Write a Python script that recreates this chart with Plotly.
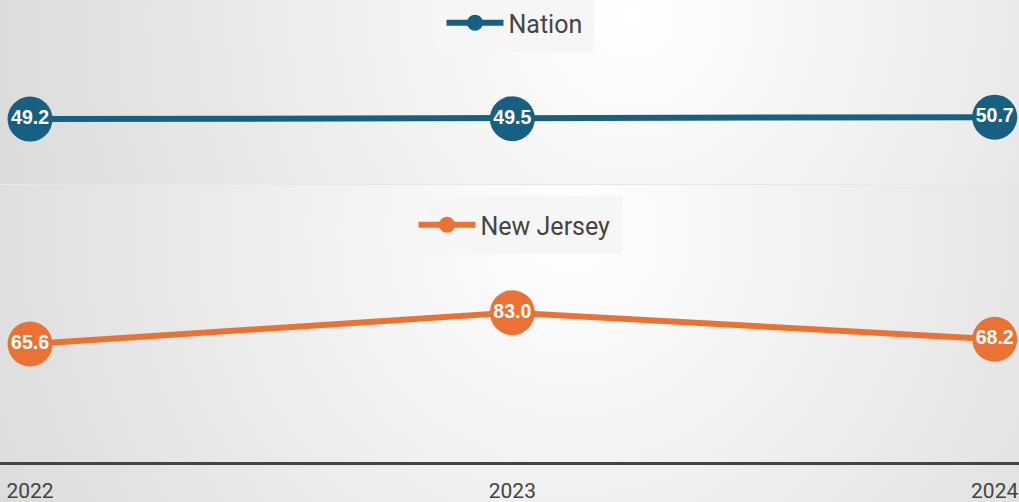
import base64
import plotly.graph_objects as go

years = [2022, 2023, 2024]
year_labels = ["2022", "2023", "2024"]
nation = [49.2, 49.5, 50.7]
new_jersey = [65.6, 83.0, 68.2]

BLUE = "#186083"
ORANGE = "#ec7233"

def grad_uri(w, h, cx, cy, r, c0, c1):
    svg = (f'<svg xmlns="http://www.w3.org/2000/svg" width="{w}" height="{h}" '
           f'viewBox="0 0 {w} {h}" preserveAspectRatio="none"><defs>'
           f'<radialGradient id="g" gradientUnits="userSpaceOnUse" cx="{cx*w}" cy="{cy*h}" r="{r*w}">'
           f'<stop offset="0" stop-color="{c0}"/><stop offset="1" stop-color="{c1}"/>'
           f'</radialGradient></defs><rect width="{w}" height="{h}" fill="url(#g)"/></svg>')
    return "data:image/svg+xml;base64," + base64.b64encode(svg.encode()).decode()

H = 462.0
top_dom = [1 - 184 / H, 1]
bot_dom = [0, 1 - 185 / H]

fig = go.Figure()
fig.add_trace(go.Scatter(
    x=years, y=nation, name="Nation", mode="lines+markers+text",
    line=dict(color=BLUE, width=6), marker=dict(color=BLUE, size=45),
    text=[f"{v:.1f}" for v in nation], textposition="middle center",
    textfont=dict(family="Liberation Sans", size=19.5, color="white", weight="bold"),
    xaxis="x", yaxis="y", legend="legend", cliponaxis=False, hoverinfo="skip"))
fig.add_trace(go.Scatter(
    x=years, y=new_jersey, name="New Jersey", mode="lines+markers+text",
    line=dict(color=ORANGE, width=6), marker=dict(color=ORANGE, size=45),
    text=[f"{v:.1f}" for v in new_jersey], textposition="middle center",
    textfont=dict(family="Liberation Sans", size=19.5, color="white", weight="bold"),
    xaxis="x2", yaxis="y2", legend="legend2", cliponaxis=False, hoverinfo="skip"))

px_per_unit = 963.7 / 2
xr = [2022 - 30 / px_per_unit, 2024 + (1019 - 994.7) / px_per_unit]

legend_common = dict(
    xanchor="center", x=0.5 + 5 / 1019, yanchor="top", bgcolor="#f6f6f6",
    bordercolor="#f6f6f6", borderwidth=6,
    font=dict(family="Roboto", size=25, color="#444444"), itemwidth=57,
    orientation="h")

fig.update_layout(
    width=1019, height=502,
    margin=dict(l=0, r=0, t=0, b=40, autoexpand=False),
    paper_bgcolor="#e8e8e8", plot_bgcolor="rgba(0,0,0,0)",
    xaxis=dict(domain=[0, 1], range=xr, anchor="y", showticklabels=False,
               showgrid=False, zeroline=False, showline=False),
    yaxis=dict(domain=top_dom, range=[0, 139.5], anchor="x", visible=False),
    xaxis2=dict(domain=[0, 1], range=xr, anchor="y2", tickvals=years,
                ticktext=year_labels, showgrid=False, zeroline=False,
                showline=True, linecolor="#444444", linewidth=3, automargin=False,
                ticks="outside", ticklen=8, tickcolor="rgba(0,0,0,0)",
                tickfont=dict(family="Roboto", size=21, color="#444444")),
    yaxis2=dict(domain=bot_dom, range=[0, 154], anchor="x2", visible=False),
    legend=dict(y=1 + 6 / H, **legend_common),
    legend2=dict(y=1 - 196 / H, **legend_common),
    showlegend=True,
    images=[
        dict(source=grad_uri(1019, 184, 0.62, 0.1, 0.62, "#ffffff", "#dcdcdc"),
             xref="paper", yref="paper", x=0, y=1, sizex=1, sizey=184 / H,
             xanchor="left", yanchor="top", sizing="stretch", layer="below"),
        dict(source=grad_uri(1019, 317, 0.56, 0.15, 0.62, "#ffffff", "#dcdcdc"),
             xref="paper", yref="paper", x=0, y=1 - 185 / H, sizex=1, sizey=317 / H,
             xanchor="left", yanchor="top", sizing="stretch", layer="below"),
    ],
)

fig.write_html("out.html", config={"displayModeBar": False},
               post_script="document.body.style.margin='0';document.body.style.overflow='hidden';")
